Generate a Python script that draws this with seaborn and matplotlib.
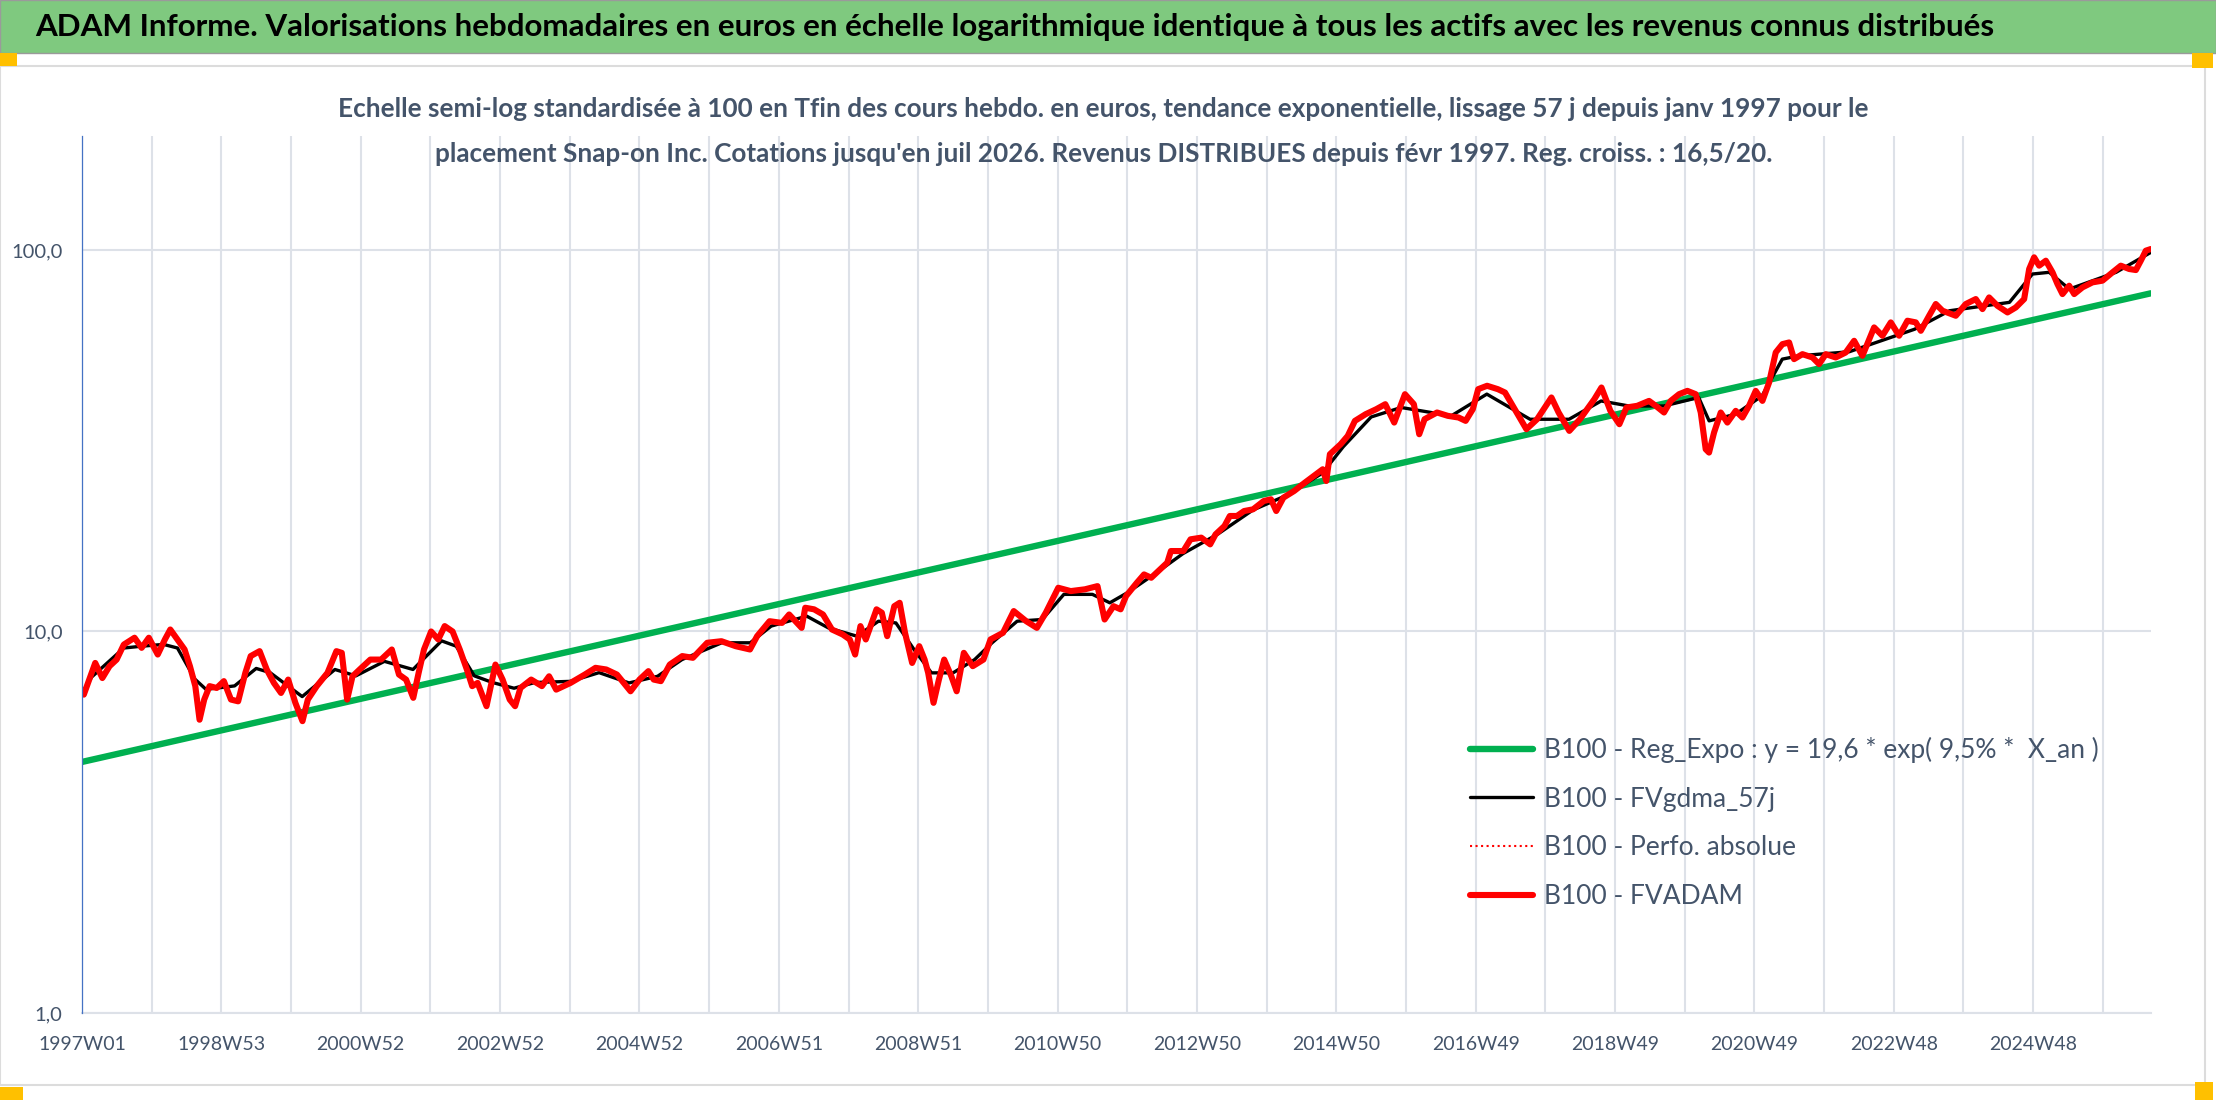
import numpy as np
import pandas as pd
import seaborn as sns
import matplotlib.pyplot as plt
from matplotlib.patches import Rectangle
from matplotlib.ticker import NullLocator

# --- data (decimal year, base-100 value) ---
red_year = [
    1997.026, 1997.087, 1997.19, 1997.292, 1997.395, 1997.497, 1997.6, 1997.754, 1997.856, 1997.959,
    1998.087, 1998.19, 1998.267, 1998.369, 1998.472, 1998.549, 1998.626, 1998.687, 1998.754, 1998.831,
    1998.933, 1999.036, 1999.138, 1999.241, 1999.344, 1999.421, 1999.549, 1999.651, 1999.754, 1999.856,
    1999.959, 2000.062, 2000.164, 2000.241, 2000.369, 2000.523, 2000.651, 2000.728, 2000.805, 2000.882,
    2000.985, 2001.138, 2001.292, 2001.446, 2001.549, 2001.651, 2001.754, 2001.831, 2001.908, 2002.01,
    2002.113, 2002.205, 2002.318, 2002.421, 2002.523, 2002.6, 2002.677, 2002.805, 2002.933, 2003.036,
    2003.138, 2003.215, 2003.292, 2003.446, 2003.6, 2003.703, 2003.805, 2004.01, 2004.215, 2004.369,
    2004.523, 2004.677, 2004.872,
    2005.0, 2005.128, 2005.205, 2005.307, 2005.435, 2005.614, 2005.767, 2005.972, 2006.176, 2006.381,
    2006.586, 2006.688, 2006.867, 2007.046, 2007.148, 2007.327, 2007.379, 2007.506, 2007.634, 2007.762,
    2007.916, 2008.018, 2008.095, 2008.171, 2008.248, 2008.402, 2008.478, 2008.555, 2008.657, 2008.734,
    2008.811, 2008.913, 2009.015, 2009.092, 2009.143, 2009.22, 2009.297, 2009.373, 2009.476, 2009.552,
    2009.655, 2009.783, 2009.936, 2010.038, 2010.217, 2010.371, 2010.55, 2010.703, 2010.831, 2011.01,
    2011.189, 2011.394, 2011.573, 2011.675, 2011.803, 2011.905, 2011.982,
    2012.138, 2012.241, 2012.344, 2012.472, 2012.574, 2012.626, 2012.805, 2012.908, 2013.062, 2013.19,
    2013.267, 2013.395, 2013.472, 2013.574, 2013.677, 2013.805, 2013.959, 2014.062, 2014.138, 2014.241,
    2014.395, 2014.549, 2014.677, 2014.805, 2014.856, 2014.908, 2015.062, 2015.164, 2015.267, 2015.421,
    2015.574, 2015.703, 2015.831, 2015.985, 2016.113, 2016.19, 2016.267, 2016.446, 2016.6, 2016.754,
    2016.856, 2016.959, 2017.036, 2017.164, 2017.318, 2017.421, 2017.574, 2017.728, 2017.882, 2018.087,
    2018.19, 2018.344, 2018.497, 2018.703, 2018.805, 2018.933, 2019.062, 2019.164, 2019.318,
    2019.488, 2019.584, 2019.703, 2019.799, 2019.919, 2020.038, 2020.158, 2020.23, 2020.301, 2020.349,
    2020.421, 2020.517, 2020.612, 2020.732, 2020.828, 2020.923, 2021.019, 2021.115, 2021.211, 2021.306,
    2021.402, 2021.498, 2021.569, 2021.689, 2021.833, 2021.928, 2022.024, 2022.167, 2022.311, 2022.431,
    2022.55, 2022.718, 2022.837, 2022.957, 2023.077, 2023.196, 2023.316, 2023.388, 2023.507, 2023.603,
    2023.699, 2023.89, 2024.033, 2024.177, 2024.273, 2024.368, 2024.488, 2024.632, 2024.751, 2024.871,
    2024.943, 2025.014, 2025.086, 2025.182, 2025.278, 2025.349, 2025.421, 2025.517, 2025.589, 2025.708,
    2025.852, 2025.995, 2026.139, 2026.258, 2026.378, 2026.474, 2026.545, 2026.617, 2026.689,
]
red_val = [
    6.83, 7.33, 8.27, 7.55, 8.11, 8.44, 9.24, 9.63, 9.06, 9.63,
    8.70, 9.53, 10.12, 9.53, 8.97, 8.11, 7.19, 5.87, 6.63, 7.19,
    7.11, 7.41, 6.63, 6.56, 7.79, 8.62, 8.88, 7.95, 7.33, 6.90,
    7.48, 6.50, 5.82, 6.63, 7.19, 7.79, 8.88, 8.79, 6.63, 7.63,
    7.95, 8.44, 8.44, 8.97, 7.71, 7.48, 6.70, 7.79, 8.97, 10.0,
    9.53, 10.33, 10.0, 8.97, 7.95, 7.19, 7.33, 6.37, 8.19, 7.48,
    6.63, 6.37, 7.11, 7.48, 7.19, 7.63, 7.04, 7.33, 7.71, 8.03,
    7.95, 7.71, 6.97,
    7.48, 7.87, 7.48, 7.41, 8.19, 8.62, 8.53, 9.34, 9.43, 9.15,
    8.97, 9.72, 10.64, 10.53, 11.08, 10.22, 11.54, 11.43, 11.08, 10.12,
    9.82, 9.53, 8.70, 10.33, 9.53, 11.43, 11.2, 9.72, 11.65, 11.89,
    9.92, 8.27, 9.15, 8.44, 7.79, 6.50, 7.48, 8.44, 7.63, 6.97,
    8.79, 8.11, 8.44, 9.53, 9.92, 11.31, 10.64, 10.22, 11.2, 13.02,
    12.76, 12.9, 13.15, 10.75, 11.65, 11.43, 12.38,
    13.42, 14.11, 13.83, 14.55, 15.15, 16.25, 16.25, 17.44, 17.62, 16.92,
    17.97, 18.90, 20.08, 20.08, 20.69, 20.9, 21.98, 22.21, 20.69, 22.43,
    23.35, 24.56, 25.57, 26.62, 24.8, 29.15, 30.96, 32.56, 35.65, 37.12,
    38.26, 39.43, 35.29, 41.88, 39.43, 32.89, 36.02, 37.5, 36.75, 36.38,
    35.65, 38.26, 43.17, 44.06, 43.17, 42.3, 37.87, 33.9, 36.02, 41.06,
    37.5, 33.56, 36.02, 40.64, 43.61, 37.87, 34.94, 38.65, 39.04,
    40.22, 39.04, 37.5, 40.22, 41.88, 42.73, 41.88, 37.5, 30.04, 29.44,
    33.23, 37.5, 35.29, 37.87, 36.38, 39.04, 42.73, 40.22, 44.96, 53.88,
    56.65, 57.23, 51.75, 53.33, 52.27, 50.22, 53.33, 52.27, 53.88, 57.81,
    52.8, 62.67, 59.6, 64.6, 59.6, 65.25, 64.6, 61.4, 67.24, 72.17,
    69.31, 67.24, 72.17, 74.37, 70.0, 75.1, 71.4, 68.6, 70.7, 74.37,
    89.16, 95.68, 90.97, 93.74, 87.38, 81.42, 76.64, 80.6, 76.64, 79.8,
    82.26, 83.1, 87.38, 90.97, 89.16, 88.6, 93.74, 99.6, 100.6,
]
black_year = [
    1997.0, 1997.14, 1997.6, 1997.86, 1998.17, 1998.37, 1998.62, 1998.78, 1999.19, 1999.5,
    1999.7, 2000.16, 2000.63, 2000.93, 2001.34, 2001.75, 2002.16, 2002.37, 2002.63, 2002.89,
    2003.2, 2003.5, 2004.01, 2004.42, 2004.85, 2005.26, 2005.61, 2006.18, 2006.59, 2006.89,
    2007.4, 2007.71, 2008.12, 2008.43, 2008.68, 2008.94, 2009.19, 2009.5, 2009.81, 2010.06,
    2010.42, 2010.78, 2011.09, 2011.5, 2011.75, 2012.0, 2012.42, 2012.8, 2013.3, 2013.8,
    2014.3, 2014.8, 2015.1, 2015.5, 2015.93, 2016.65, 2017.16, 2017.78, 2018.34, 2018.8,
    2019.2, 2019.7, 2020.2, 2020.35, 2020.73, 2021.11, 2021.4, 2021.64, 2022.36, 2023.3,
    2023.8, 2024.66, 2024.99, 2025.23, 2025.52, 2026.19, 2026.69,
]
black_val = [
    6.9, 7.6, 9.05, 9.15, 9.25, 9.05, 7.5, 7.05, 7.2, 8.0,
    7.8, 6.75, 7.95, 7.65, 8.35, 7.95, 9.45, 9.15, 7.65, 7.35,
    7.1, 7.35, 7.4, 7.8, 7.33, 7.63, 8.44, 9.34, 9.34, 10.33,
    10.97, 10.22, 9.72, 10.64, 10.53, 8.97, 7.79, 7.79, 8.44, 9.34,
    10.64, 10.75, 12.51, 12.51, 11.89, 12.63, 14.26, 16.0, 18.0, 20.8,
    22.8, 26.0, 30.5, 36.5, 38.65, 36.75, 41.9, 36.0, 36.0, 40.2,
    39.0, 39.0, 41.06, 35.65, 37.12, 41.47, 51.75, 52.8, 54.1, 62.0,
    69.3, 72.9, 86.5, 87.4, 79.0, 87.4, 98.6,
]
green_year = [1997.0, 2026.689]
green_val = [4.55, 77.0]

x_labels = ["1997W01", "1998W53", "2000W52", "2002W52", "2004W52", "2006W51", "2008W51",
            "2010W50", "2012W50", "2014W50", "2016W49", "2018W49", "2020W49", "2022W48", "2024W48"]
n_weeks = 1544

legend_labels = ["B100 - Reg_Expo : y = 19,6 * exp( 9,5% *  X_an )",
                 "B100 - FVgdma_57j",
                 "B100 - Perfo. absolue",
                 "B100 - FVADAM"]

title = ("ADAM Informe. Valorisations hebdomadaires en euros en échelle logarithmique "
         "identique à tous les actifs avec les revenus connus distribués")
sub1 = ("Echelle semi-log standardisée à 100 en Tfin des cours hebdo. en euros, tendance "
        "exponentielle, lissage 57 j depuis janv 1997 pour le")
sub2 = ("placement Snap-on Inc. Cotations jusqu'en juil 2026. Revenus DISTRIBUES depuis "
        "févr 1997. Reg. croiss. : 16,5/20.")

# week index on the category axis
def to_week(years):
    return (np.array(years) - 1997.0) * 52.0

red_df = pd.DataFrame({"week": to_week(red_year), "val": red_val})
black_df = pd.DataFrame({"week": to_week(black_year), "val": black_val})
green_df = pd.DataFrame({"week": to_week(green_year), "val": green_val})

sns.set_style("white")
plt.rcParams["font.family"] = ["Lato", "DejaVu Sans"]

TXT = "#44546A"
GRID = "#DDE1E8"

fig = plt.figure(figsize=(22.16, 11.02), dpi=100)

# banner and frame
fig.add_artist(Rectangle((0, 0.952), 1, 0.048, transform=fig.transFigure,
                         facecolor="#7FC97F", edgecolor="#9A9A9A", lw=1))
fig.add_artist(Rectangle((0.0, 0.0154), 0.995, 0.925, transform=fig.transFigure,
                         facecolor="none", edgecolor="#DCDCDC", lw=1.5))
for (x0, y0, w, h) in [(0, 1036, 17, 13), (2192, 1034, 21, 15), (0, 2, 23, 13), (2195, 2, 18, 18)]:
    fig.add_artist(Rectangle((x0 / 2216, y0 / 1102), w / 2216, h / 1102,
                             transform=fig.transFigure, facecolor="#FFC000", edgecolor="none"))
fig.text(0.0158, 0.9755, title, fontsize=22.6, fontweight="bold", color="black",
         ha="left", va="center")
fig.text(0.498, 0.901, sub1, fontsize=18.8, fontweight="bold", color=TXT, ha="center", va="center")
fig.text(0.498, 0.860, sub2, fontsize=18.8, fontweight="bold", color=TXT, ha="center", va="center")

ax = fig.add_axes([0.0370, 0.0808, 0.9337, 0.7958])
ax.set_yscale("log")

sns.lineplot(data=green_df, x="week", y="val", ax=ax, color="#00B050", lw=4.6,
             estimator=None, sort=False, label=legend_labels[0])
sns.lineplot(data=black_df, x="week", y="val", ax=ax, color="black", lw=2.4,
             estimator=None, sort=False, label=legend_labels[1])
sns.lineplot(data=red_df, x="week", y="val", ax=ax, color="red", lw=1.5, ls=":",
             estimator=None, sort=False, label=legend_labels[2])
sns.lineplot(data=red_df, x="week", y="val", ax=ax, color="red", lw=4.4,
             estimator=None, sort=False, label=legend_labels[3])

ax.set_xlim(0, n_weeks)
ax.set_ylim(1, 199)
ax.set_xlabel("")
ax.set_ylabel("")

ax.set_yticks([1, 10, 100])
ax.set_yticklabels(["1,0", "10,0", "100,0"])
ax.yaxis.set_minor_locator(NullLocator())
xt = list(range(0, n_weeks + 1, 52))
ax.set_xticks(xt)
ax.set_xticklabels([x_labels[i // 2] if i % 2 == 0 and i // 2 < len(x_labels) else ""
                    for i in range(len(xt))])
ax.tick_params(axis="x", length=6.5, width=1.5, color=GRID, pad=10, labelsize=14, labelcolor=TXT)
ax.tick_params(axis="y", length=0, pad=14, labelsize=14.5, labelcolor=TXT)

ax.grid(True, which="major", color=GRID, lw=1.5)
ax.set_axisbelow(True)
for s in ["top", "right"]:
    ax.spines[s].set_visible(False)
ax.spines["bottom"].set_color(GRID)
ax.spines["bottom"].set_linewidth(1.5)
ax.spines["left"].set_color("#4472C4")
ax.spines["left"].set_linewidth(0.9)
ax.spines["left"].set_zorder(5)

leg = ax.legend(loc="center left", bbox_to_anchor=(0.6708, 0.2167), frameon=False,
                fontsize=19, handlelength=2.4, handletextpad=0.4, labelspacing=0.9,
                borderpad=0, borderaxespad=0)
for t in leg.get_texts():
    t.set_color(TXT)

fig.savefig("out.png", dpi=100)
